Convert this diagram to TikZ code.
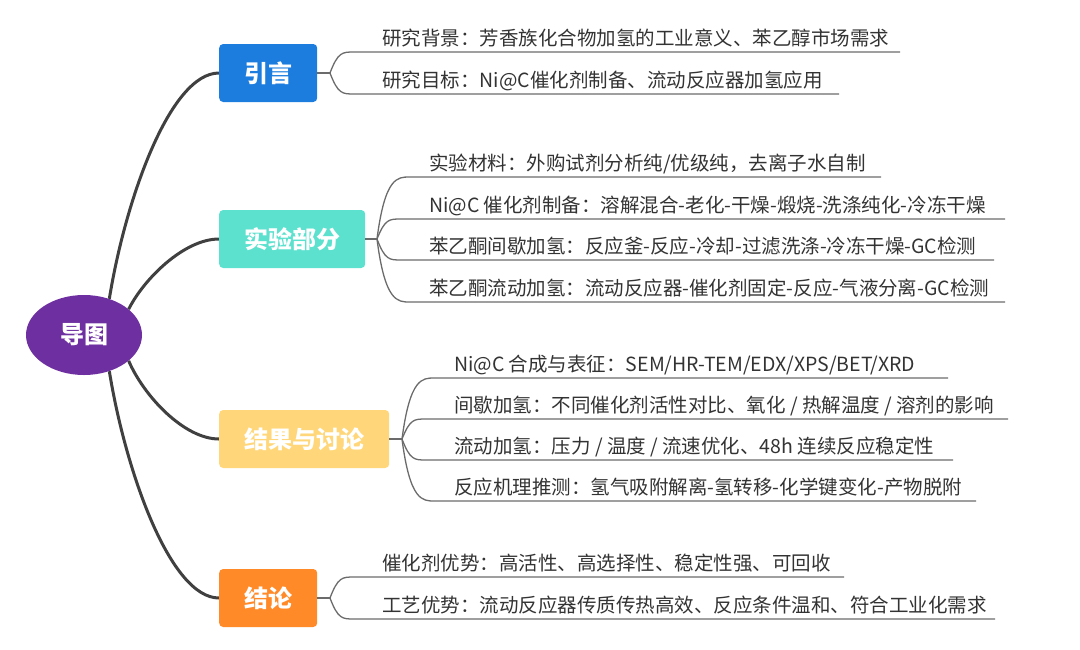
\documentclass[tikz,border=0pt]{standalone}
\usepackage{fontspec}
\setmainfont{Noto Sans CJK SC}
\usetikzlibrary{positioning,shapes.geometric,backgrounds}
\tikzstyle{mindmap} = [x = 1pt, y = -1pt]
\definecolor{rootColor}{HTML}{6E2FA0}
\definecolor{introColor}{HTML}{1C7DDF}
\definecolor{expColor}{HTML}{5CE1CE}
\definecolor{resColor}{HTML}{FFD77A}
\definecolor{conclColor}{HTML}{FF8A27}
\definecolor{branchColor}{HTML}{404040}
\definecolor{leafColor}{HTML}{6B6B6B}
\definecolor{leafTextColor}{HTML}{333333}
\tikzstyle{rootStyle} = [ellipse, fill=rootColor, minimum width=116pt, minimum height=80pt, inner sep=0, text=white, font=\fontsize{24}{24}\selectfont\bfseries]
\tikzstyle{topicStyle} = [rounded corners = 4pt, text=white, font=\fontsize{24}{24}\selectfont\bfseries, inner xsep=25pt, inner ysep=0, minimum height=58pt, anchor=west]
\tikzstyle{branchLine} = [color=branchColor, line width=3pt]
\tikzstyle{leafLine} = [color=leafColor, line width=1.3pt]
\tikzstyle{leafText} = [font=\fontsize{19.5}{19.5}\selectfont, text=leafTextColor, anchor=base west, inner sep=0]
\newcommand{\topic}[4]{\node [topicStyle, fill=#4] (#1) at (219, #2) {#3};}
\newcommand{\junction}[3]{\coordinate (#1J) at (#2, #3); \draw [leafLine] (#1.east) -- (#1J);}
\newcommand{\leaf}[7]{
  \node [leafText] (#1) at (#3 + 52, #5 - 7) {#7};
  \coordinate (#1End) at (#6, #5);
  \draw [leafLine] (#2J) .. controls +(8, #5 - #4) and +(-12, 0) .. +({20 + 0.2 * abs(#5 - #4)}, #5 - #4) -- (#1End);
}

\begin{document}
\begin{tikzpicture}[mindmap]
\useasboundingbox (0, 0) rectangle (1080, 649);
\node [rootStyle] (root) at (84, 335) {导图};
\topic{intro}{73}{引言}{introColor}
\topic{exp}{239}{实验部分}{expColor}
\topic{res}{439}{结果与讨论}{resColor}
\topic{concl}{598}{结论}{conclColor}
\begin{scope}[on background layer]
  \draw [branchLine] (root.55) .. controls +(16, -99) and +(-49, 0) .. (intro.west);
  \draw [branchLine] (root.30) .. controls +(15, -30) and +(-35, 0) .. (exp.west);
  \draw [branchLine] (root.-30) .. controls +(15, 35) and +(-35, 0) .. (res.west);
  \draw [branchLine] (root.-55) .. controls +(16, 99) and +(-49, 0) .. (concl.west);
\end{scope}
\junction{intro}{330}{73}
\leaf{intro1}{intro}{330}{73}{52}{900}{研究背景：芳香族化合物加氢的工业意义、苯乙醇市场需求}
\leaf{intro2}{intro}{330}{73}{94}{839}{研究目标：Ni@C催化剂制备、流动反应器加氢应用}
\junction{exp}{377}{239}
\leaf{exp1}{exp}{377}{239}{177}{881}{实验材料：外购试剂分析纯/优级纯，去离子水自制}
\leaf{exp2}{exp}{377}{239}{219}{1005}{Ni@C 催化剂制备：溶解混合-老化-干燥-煅烧-洗涤纯化-冷冻干燥}
\leaf{exp3}{exp}{377}{239}{260}{994}{苯乙酮间歇加氢：反应釜-反应-冷却-过滤洗涤-冷冻干燥-GC检测}
\leaf{exp4}{exp}{377}{239}{302}{1005}{苯乙酮流动加氢：流动反应器-催化剂固定-反应-气液分离-GC检测}
\junction{res}{402}{439}
\leaf{res1}{res}{402}{439}{378}{948}{Ni@C 合成与表征：SEM/HR-TEM/EDX/XPS/BET/XRD}
\leaf{res2}{res}{402}{439}{419}{1008}{间歇加氢：不同催化剂活性对比、氧化 / 热解温度 / 溶剂的影响}
\leaf{res3}{res}{402}{439}{460}{953}{流动加氢：压力 / 温度 / 流速优化、48h 连续反应稳定性}
\leaf{res4}{res}{402}{439}{501}{976}{反应机理推测：氢气吸附解离-氢转移-化学键变化-产物脱附}
\junction{concl}{330}{598}
\leaf{concl1}{concl}{330}{598}{577}{844}{催化剂优势：高活性、高选择性、稳定性强、可回收}
\leaf{concl2}{concl}{330}{598}{619}{995}{工艺优势：流动反应器传质传热高效、反应条件温和、符合工业化需求}
\end{tikzpicture}
\end{document}
